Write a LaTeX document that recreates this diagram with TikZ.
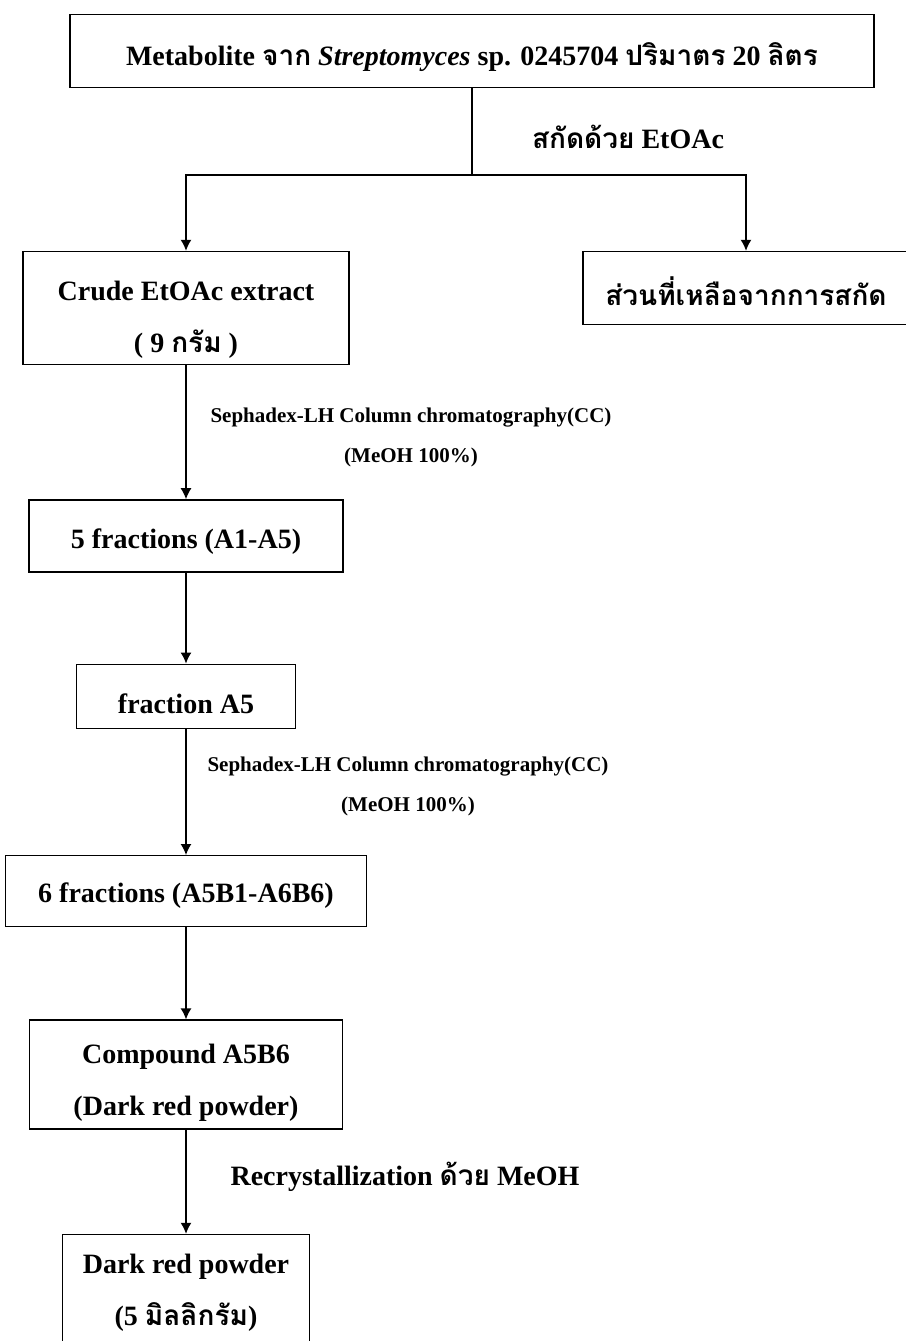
\documentclass[tikz,border=0pt]{standalone}
\usepackage{fontspec}
\setmainfont{Liberation Serif}
\newfontfamily\thaifont[Script=Thai]{Loma}
\usepackage{tikz}
\usetikzlibrary{calc,positioning,arrows.meta}
\newcommand{\thai}[1]{{\thaifont #1}}% Thai words
\tikzstyle{stage}=[draw,rectangle,inner sep=0pt]
\tikzstyle{txt}=[align=center,inner sep=0pt,font=\bfseries\fontsize{28}{52}\selectfont]
\tikzstyle{note}=[align=center,inner sep=0pt,font=\bfseries\fontsize{28}{40}\selectfont]
\tikzstyle{small}=[align=center,inner sep=0pt,font=\bfseries\fontsize{21}{40}\selectfont]

\begin{document}
\begin{tikzpicture}[x=1pt,y=-1pt,line width=1.4pt,>={Latex[length=11pt,width=11pt]}]
\useasboundingbox (0,0) rectangle (905,1341);
%
\node[stage,minimum width=804pt,minimum height=73pt] (meta) at (472,51) {};
\node[txt] (meta-t) at ($(meta)+(0,6)$) {Metabolite \thai{จาก} \textit{Streptomyces} sp. 0245704 \thai{ปริมาตร} 20 \thai{ลิตร}};
\coordinate (split) at (472,175);
\node[note] (extract) at (628,137) {\thai{สกัดด้วย} EtOAc};
%
\node[stage,minimum width=326pt,minimum height=113pt] (crude) at (186,308) {};
\node[txt] (crude-t) at ($(crude)+(0,12)$) {Crude EtOAc extract\\( 9 \thai{กรัม} )};
\node[stage,minimum width=326pt,minimum height=73pt] (rest) at (746,288) {};
\node[txt] (rest-t) at ($(rest)+(0,3)$) {\thai{ส่วนที่เหลือจากการสกัด}};
\draw (meta.south) -- (split);
\draw[->] (split) -| (crude.north);
\draw[->] (split) -| (rest.north);
%
\node[stage,minimum width=314pt,minimum height=72pt,below=134pt of crude] (frac5) {};
\node[txt] (frac5-t) at ($(frac5)+(0,6)$) {5 fractions (A1-A5)};
\node[small] (sepA) at (411,437) {Sephadex-LH Column chromatography(CC)\\(MeOH 100\%)};
\draw[->] (crude) -- (frac5);
%
\node[stage,minimum width=219pt,minimum height=64pt,below=91pt of frac5] (fracA5) {};
\node[txt] (fracA5-t) at ($(fracA5)+(0,7)$) {fraction A5};
\draw[->] (frac5) -- (fracA5);
%
\node[stage,minimum width=361pt,minimum height=71pt,below=126pt of fracA5] (frac6) {};
\node[txt] (frac6-t) at ($(frac6)+(0,4)$) {6 fractions (A5B1-A6B6)};
\node[small] (sepB) at (408,786) {Sephadex-LH Column chromatography(CC)\\(MeOH 100\%)};
\draw[->] (fracA5) -- (frac6);
%
\node[stage,minimum width=313pt,minimum height=109pt,below=92pt of frac6] (compound) {};
\node[txt] (compound-t) at ($(compound)+(0,8)$) {Compound A5B6\\(Dark red powder)};
\draw[->] (frac6) -- (compound);
%
\node[stage,minimum width=247pt,minimum height=124pt,below=104pt of compound] (powder) {};
\node[txt] (powder-t) at ($(powder)+(0,-4)$) {Dark red powder\\(5 \thai{มิลลิกรัม})};
\node[note] (recrys) at (405,1177) {Recrystallization \thai{ด้วย} MeOH};
\draw[->] (compound) -- (powder);
%
\end{tikzpicture}
\end{document}
